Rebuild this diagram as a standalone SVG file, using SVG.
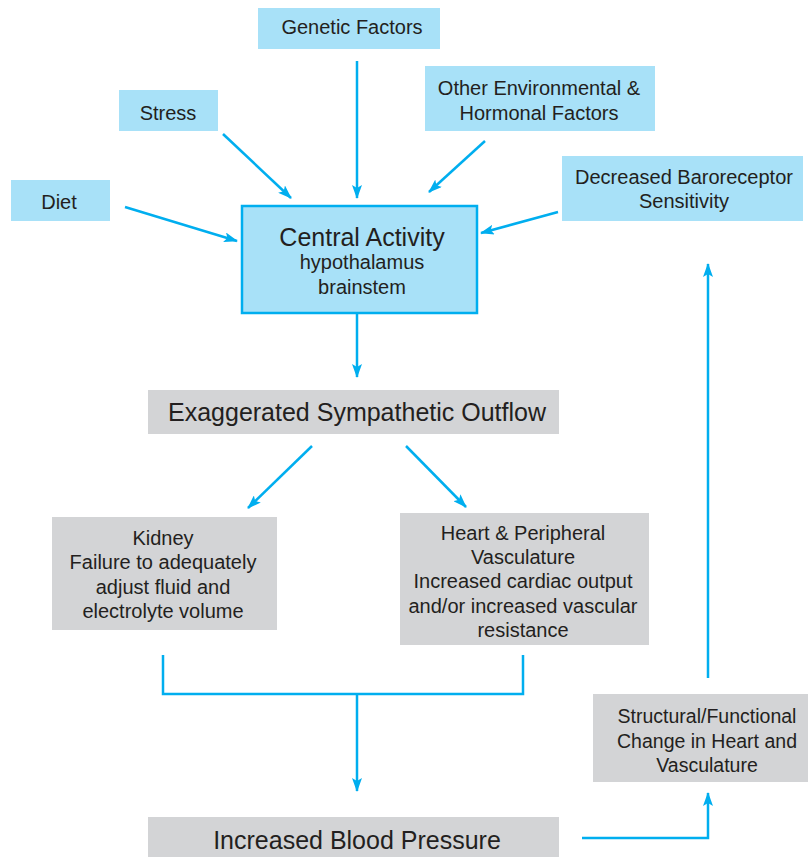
<svg xmlns="http://www.w3.org/2000/svg" width="808" height="857" viewBox="0 0 808 857">
  <style>
    .blue { fill: #a8e1f8; }
    .gray { fill: #d3d4d6; }
    .box-strong { fill: #a8e1f8; stroke: #00aeef; stroke-width: 2.5; }
    text { font-family: "Liberation Sans", Arial, sans-serif; fill: #231f20; text-anchor: middle; }
    .t18 { font-size: 20px; }
    .t17 { font-size: 19.5px; }
    .t22 { font-size: 25px; }
    .t24 { font-size: 25px; }
    .conn { stroke: #00aeef; stroke-width: 2.5; fill: none; }
    .arr { marker-end: url(#head); }
  </style>
  <defs>
    <marker id="head" viewBox="0 0 14 10" refX="13" refY="5" markerWidth="14" markerHeight="10" markerUnits="userSpaceOnUse" orient="auto">
      <path d="M0,0 L14,5 L0,10 L3,5 z" fill="#00aeef"/>
    </marker>
  </defs>

  <rect width="808" height="857" fill="#ffffff"/>

  <g id="genetic">
    <rect class="blue" x="258" y="8" width="182" height="41"/>
    <text class="t18" x="352" y="34">Genetic Factors</text>
  </g>
  <g id="stress">
    <rect class="blue" x="119" y="90" width="99" height="41"/>
    <text class="t18" x="168" y="120">Stress</text>
  </g>
  <g id="diet">
    <rect class="blue" x="11" y="180" width="99" height="41"/>
    <text class="t18" x="59" y="209">Diet</text>
  </g>
  <g id="other-factors">
    <rect class="blue" x="425" y="66" width="230" height="65"/>
    <text class="t18" x="539" y="95">Other Environmental &amp;</text>
    <text class="t18" x="539" y="120">Hormonal Factors</text>
  </g>
  <g id="baroreceptor">
    <rect class="blue" x="562" y="156" width="241" height="65"/>
    <text class="t18" x="684" y="184">Decreased Baroreceptor</text>
    <text class="t18" x="684" y="208">Sensitivity</text>
  </g>
  <g id="central">
    <rect class="box-strong" x="242" y="206" width="235" height="107"/>
    <text class="t22" x="362" y="246">Central Activity</text>
    <text class="t18" x="362" y="269">hypothalamus</text>
    <text class="t18" x="362" y="294">brainstem</text>
  </g>
  <g id="sympathetic">
    <rect class="gray" x="148" y="390" width="411" height="44"/>
    <text class="t24" x="357" y="421">Exaggerated Sympathetic Outflow</text>
  </g>
  <g id="kidney">
    <rect class="gray" x="52" y="517" width="225" height="113"/>
    <text class="t18" x="163" y="545">Kidney</text>
    <text class="t18" x="163" y="569">Failure to adequately</text>
    <text class="t18" x="163" y="594">adjust fluid and</text>
    <text class="t18" x="163" y="618">electrolyte volume</text>
  </g>
  <g id="heart">
    <rect class="gray" x="400" y="513" width="249" height="132"/>
    <text class="t18" x="523" y="540">Heart &amp; Peripheral</text>
    <text class="t18" x="523" y="564">Vasculature</text>
    <text class="t18" x="523" y="588">Increased cardiac output</text>
    <text class="t18" x="523" y="613">and/or increased vascular</text>
    <text class="t18" x="523" y="637">resistance</text>
  </g>
  <g id="structural">
    <rect class="gray" x="593" y="694" width="215" height="88"/>
    <text class="t17" x="707" y="723">Structural/Functional</text>
    <text class="t17" x="707" y="748">Change in Heart and</text>
    <text class="t17" x="707" y="772">Vasculature</text>
  </g>
  <g id="blood-pressure">
    <rect class="gray" x="148" y="817" width="411" height="40"/>
    <text class="t24" x="357" y="849">Increased Blood Pressure</text>
  </g>

  <g id="connectors">
    <line class="conn arr" x1="357" y1="61" x2="357" y2="198"/>
    <line class="conn arr" x1="223" y1="134" x2="291" y2="198"/>
    <line class="conn arr" x1="125" y1="207" x2="237" y2="241"/>
    <line class="conn arr" x1="485" y1="141" x2="429" y2="192"/>
    <line class="conn arr" x1="558" y1="212" x2="481" y2="233"/>
    <line class="conn arr" x1="357" y1="314" x2="357" y2="377"/>
    <line class="conn arr" x1="312" y1="446" x2="248" y2="508"/>
    <line class="conn arr" x1="406" y1="446" x2="466" y2="507"/>
    <path class="conn" d="M163,655 V694 H523 V655"/>
    <line class="conn arr" x1="357" y1="694" x2="357" y2="791"/>
    <path class="conn arr" d="M582,838 H708 V793"/>
    <line class="conn arr" x1="708" y1="678" x2="708" y2="264"/>
  </g>
</svg>
